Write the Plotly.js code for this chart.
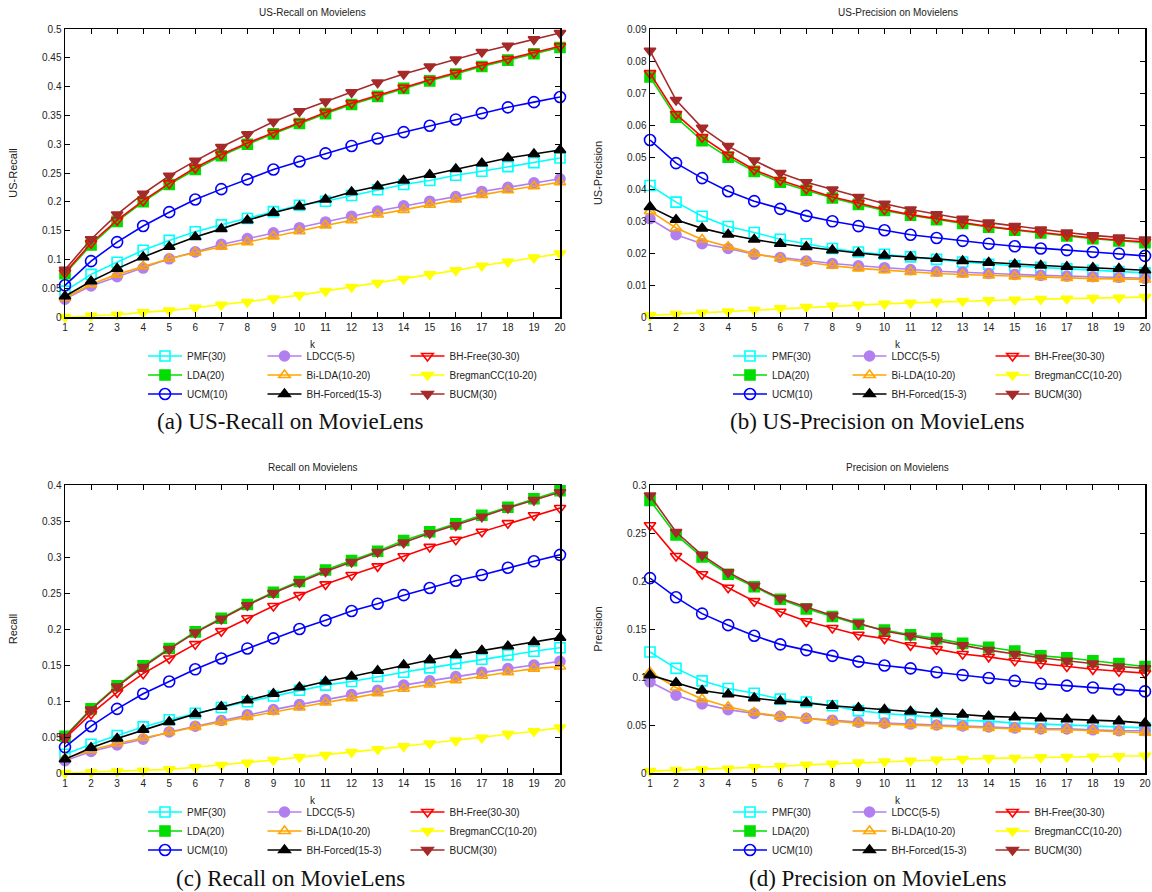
<!DOCTYPE html>
<html><head><meta charset="utf-8">
<script src="https://cdn.plot.ly/plotly-3.0.1.min.js"></script>
<style>html,body{margin:0;padding:0;background:#fff}#chart{width:1152px;height:892px}</style>
</head><body><div id="chart"></div>
<script>
// ---- data ----
const k = [1,2,3,4,5,6,7,8,9,10,11,12,13,14,15,16,17,18,19,20];
const seriesNames = ['PMF(30)','LDA(20)','UCM(10)','LDCC(5-5)','Bi-LDA(10-20)','BH-Forced(15-3)','BH-Free(30-30)','BregmanCC(10-20)','BUCM(30)'];

// (a) US-Recall
const ur_PMF      = [0.045,0.074,0.095,0.116,0.133,0.148,0.160,0.171,0.183,0.194,0.201,0.211,0.221,0.230,0.237,0.246,0.253,0.261,0.268,0.276];
const ur_LDA      = [0.075,0.125,0.166,0.200,0.230,0.256,0.280,0.300,0.318,0.336,0.353,0.369,0.383,0.397,0.410,0.422,0.435,0.446,0.457,0.468];
const ur_UCM      = [0.055,0.097,0.130,0.158,0.182,0.204,0.222,0.239,0.256,0.270,0.284,0.297,0.310,0.321,0.332,0.343,0.354,0.364,0.373,0.382];
const ur_LDCC     = [0.031,0.054,0.070,0.085,0.101,0.113,0.126,0.136,0.146,0.155,0.165,0.175,0.184,0.193,0.201,0.209,0.218,0.225,0.233,0.240];
const ur_BiLDA    = [0.033,0.057,0.074,0.088,0.101,0.112,0.122,0.130,0.140,0.149,0.159,0.168,0.178,0.186,0.195,0.204,0.212,0.220,0.227,0.234];
const ur_BHForced = [0.036,0.062,0.084,0.104,0.122,0.139,0.153,0.168,0.181,0.192,0.204,0.217,0.227,0.237,0.247,0.257,0.267,0.276,0.283,0.290];
const ur_BHFree   = [0.077,0.128,0.168,0.202,0.232,0.259,0.282,0.302,0.320,0.338,0.355,0.371,0.385,0.398,0.412,0.424,0.437,0.448,0.459,0.470];
const ur_Bregman  = [0.000,0.002,0.004,0.008,0.011,0.016,0.021,0.026,0.032,0.038,0.045,0.052,0.059,0.066,0.074,0.081,0.089,0.096,0.103,0.110];
const ur_BUCM     = [0.082,0.135,0.178,0.214,0.245,0.271,0.295,0.317,0.339,0.357,0.374,0.390,0.407,0.422,0.435,0.447,0.460,0.471,0.482,0.493];

// (b) US-Precision
const up_PMF      = [0.0411,0.0359,0.0315,0.0283,0.0264,0.0243,0.0229,0.0214,0.0203,0.0196,0.0188,0.0180,0.0172,0.0165,0.0160,0.0155,0.0151,0.0146,0.0142,0.0138];
const up_LDA      = [0.0750,0.0624,0.0551,0.0499,0.0455,0.0421,0.0396,0.0372,0.0352,0.0333,0.0318,0.0304,0.0292,0.0281,0.0271,0.0263,0.0253,0.0245,0.0238,0.0232];
const up_UCM      = [0.0553,0.0481,0.0434,0.0393,0.0362,0.0338,0.0316,0.0299,0.0284,0.0271,0.0257,0.0247,0.0238,0.0229,0.0221,0.0214,0.0209,0.0203,0.0198,0.0191];
const up_LDCC     = [0.0307,0.0257,0.0229,0.0214,0.0196,0.0186,0.0175,0.0167,0.0160,0.0154,0.0148,0.0143,0.0140,0.0136,0.0133,0.0130,0.0128,0.0126,0.0124,0.0121];
const up_BiLDA    = [0.0331,0.0278,0.0242,0.0219,0.0198,0.0183,0.0172,0.0160,0.0152,0.0146,0.0141,0.0136,0.0133,0.0130,0.0127,0.0125,0.0122,0.0120,0.0119,0.0117];
const up_BHForced = [0.0344,0.0304,0.0277,0.0258,0.0242,0.0229,0.0219,0.0209,0.0200,0.0192,0.0188,0.0182,0.0175,0.0170,0.0165,0.0161,0.0157,0.0154,0.0151,0.0146];
const up_BHFree   = [0.0762,0.0634,0.0562,0.0507,0.0460,0.0427,0.0401,0.0375,0.0356,0.0336,0.0320,0.0307,0.0295,0.0283,0.0273,0.0264,0.0255,0.0247,0.0240,0.0235];
const up_Bregman  = [0.0005,0.0009,0.0013,0.0017,0.0022,0.0027,0.0031,0.0035,0.0038,0.0041,0.0044,0.0047,0.0050,0.0052,0.0054,0.0056,0.0057,0.0059,0.0060,0.0062];
const up_BUCM     = [0.0832,0.0678,0.0591,0.0534,0.0489,0.0450,0.0421,0.0398,0.0375,0.0354,0.0336,0.0321,0.0307,0.0295,0.0284,0.0273,0.0264,0.0255,0.0248,0.0242];

// (c) Recall
const r_PMF       = [0.026,0.040,0.052,0.064,0.074,0.083,0.091,0.099,0.107,0.115,0.122,0.127,0.134,0.140,0.146,0.152,0.158,0.164,0.169,0.174];
const r_LDA       = [0.051,0.089,0.121,0.149,0.173,0.196,0.215,0.234,0.251,0.266,0.282,0.295,0.308,0.323,0.335,0.346,0.358,0.369,0.381,0.392];
const r_UCM       = [0.036,0.065,0.089,0.110,0.127,0.144,0.159,0.173,0.187,0.200,0.212,0.225,0.235,0.247,0.257,0.267,0.275,0.285,0.294,0.303];
const r_LDCC      = [0.017,0.030,0.039,0.047,0.057,0.065,0.073,0.081,0.088,0.095,0.102,0.109,0.115,0.122,0.128,0.134,0.140,0.145,0.150,0.155];
const r_BiLDA     = [0.020,0.032,0.041,0.049,0.057,0.064,0.071,0.078,0.085,0.091,0.098,0.104,0.111,0.117,0.123,0.129,0.135,0.140,0.145,0.148];
const r_BHForced  = [0.019,0.035,0.048,0.060,0.071,0.082,0.092,0.101,0.110,0.119,0.127,0.134,0.142,0.150,0.157,0.164,0.170,0.176,0.182,0.188];
const r_BHFree    = [0.048,0.082,0.112,0.138,0.159,0.179,0.197,0.215,0.232,0.247,0.262,0.275,0.287,0.301,0.314,0.324,0.335,0.347,0.358,0.368];
const r_Bregman   = [0.000,0.001,0.002,0.003,0.005,0.008,0.011,0.014,0.018,0.022,0.025,0.029,0.033,0.037,0.041,0.045,0.049,0.054,0.058,0.063];
const r_BUCM      = [0.050,0.088,0.120,0.147,0.172,0.195,0.214,0.233,0.250,0.265,0.280,0.293,0.307,0.320,0.333,0.344,0.356,0.368,0.379,0.390];

// (d) Precision
const p_PMF       = [0.126,0.109,0.096,0.088,0.083,0.077,0.074,0.070,0.065,0.062,0.060,0.058,0.055,0.054,0.052,0.051,0.050,0.049,0.048,0.047];
const p_LDA       = [0.284,0.248,0.225,0.207,0.194,0.181,0.171,0.163,0.155,0.149,0.144,0.140,0.135,0.131,0.127,0.122,0.120,0.117,0.114,0.111];
const p_UCM       = [0.203,0.183,0.166,0.154,0.143,0.134,0.128,0.122,0.116,0.112,0.109,0.105,0.102,0.099,0.096,0.093,0.091,0.089,0.087,0.085];
const p_LDCC      = [0.095,0.081,0.072,0.066,0.062,0.059,0.057,0.055,0.053,0.052,0.051,0.050,0.049,0.048,0.047,0.046,0.046,0.045,0.044,0.044];
const p_BiLDA     = [0.105,0.089,0.077,0.069,0.063,0.059,0.057,0.054,0.052,0.051,0.050,0.049,0.048,0.047,0.046,0.045,0.045,0.044,0.043,0.042];
const p_BHForced  = [0.102,0.094,0.086,0.082,0.078,0.075,0.073,0.070,0.068,0.066,0.064,0.062,0.061,0.059,0.058,0.057,0.056,0.055,0.054,0.052];
const p_BHFree    = [0.258,0.226,0.207,0.193,0.179,0.168,0.158,0.151,0.144,0.140,0.133,0.129,0.124,0.121,0.117,0.114,0.111,0.108,0.106,0.104];
const p_Bregman   = [0.0020,0.0030,0.0035,0.0045,0.0060,0.0070,0.0085,0.0095,0.0110,0.0120,0.0128,0.0138,0.0146,0.0152,0.0157,0.0163,0.0167,0.0170,0.0173,0.0180];
const p_BUCM      = [0.289,0.251,0.227,0.209,0.195,0.182,0.173,0.164,0.156,0.148,0.143,0.138,0.133,0.128,0.124,0.120,0.117,0.114,0.111,0.109];

const panelTitles = ['US-Recall on Movielens','US-Precision on Movielens','Recall on Movielens','Precision on Movielens'];
const panelYTitles = ['US-Recall','US-Precision','Recall','Precision'];
const panelCaptions = ['(a) US-Recall on MovieLens','(b) US-Precision on MovieLens','(c) Recall on MovieLens','(d) Precision on MovieLens'];
const panelYMax = [0.5, 0.09, 0.4, 0.3];
const panelYStep = [0.05, 0.01, 0.05, 0.05];
const xTickVals = k;

// ---- styles ----
const colors  = ['#00ffff','#00dd00','#0000ff','#b27ff0','#ffa500','#000000','#ff0000','#ffff00','#a52a2a'];
const symbols = ['square-open','square','circle-open','circle','triangle-up-open','triangle-up','triangle-down-open','triangle-down','triangle-down'];
const msizes  = [10,10,11,10,10,10,10,10,10];

const W = 1152, H = 892;
const px = v => v / W;
const py = v => 1 - v / H;

const panelData = [
  [ur_PMF,ur_LDA,ur_UCM,ur_LDCC,ur_BiLDA,ur_BHForced,ur_BHFree,ur_Bregman,ur_BUCM],
  [up_PMF,up_LDA,up_UCM,up_LDCC,up_BiLDA,up_BHForced,up_BHFree,up_Bregman,up_BUCM],
  [r_PMF,r_LDA,r_UCM,r_LDCC,r_BiLDA,r_BHForced,r_BHFree,r_Bregman,r_BUCM],
  [p_PMF,p_LDA,p_UCM,p_LDCC,p_BiLDA,p_BHForced,p_BHFree,p_Bregman,p_BUCM]
];

// geometry (pixels)
const geo = [
  {l:65,  r:560,  t:29,  b:317, capX:290},
  {l:650, r:1145, t:29,  b:317, capX:877},
  {l:65,  r:560,  t:485, b:773, capX:290},
  {l:650, r:1145, t:485, b:773, capX:877}
];
const legendColCenters = [188, 325, 474];

const FONT = 'Liberation Sans, Arial, sans-serif';
const traces = [];
const layout = {
  width: W, height: H,
  margin: {l:0, r:0, t:0, b:0},
  paper_bgcolor: '#fff', plot_bgcolor: '#fff',
  font: {family: FONT, size: 10, color: '#222'},
  annotations: []
};

for (let p = 0; p < 4; p++) {
  const g = geo[p];
  const xa = p === 0 ? 'x' : 'x' + (p + 1);
  const ya = p === 0 ? 'y' : 'y' + (p + 1);
  const xk = p === 0 ? 'xaxis' : 'xaxis' + (p + 1);
  const yk = p === 0 ? 'yaxis' : 'yaxis' + (p + 1);
  const axCommon = {
    showline: true, linecolor: '#000', linewidth: 1.5, mirror: 'ticks',
    ticks: 'inside', ticklen: 5, tickwidth: 1, tickcolor: '#000',
    showgrid: false, zeroline: false,
    tickfont: {family: FONT, size: 10, color: '#222'}
  };
  layout[xk] = Object.assign({}, axCommon, {
    domain: [px(g.l), px(g.r)], anchor: ya,
    range: [1, 20], tickmode: 'array', tickvals: xTickVals,
    title: {text: 'k', font: {family: FONT, size: 10, color: '#222'}, standoff: 9}
  });
  layout[yk] = Object.assign({}, axCommon, {
    domain: [py(g.b), py(g.t)], anchor: xa,
    range: [0, panelYMax[p]], dtick: panelYStep[p], tick0: 0,
    title: {text: panelYTitles[p], font: {family: FONT, size: 11, color: '#222'}, standoff: 22}
  });
  layout.annotations.push({
    xref: 'paper', yref: 'paper', x: px((g.l + g.r) / 2), y: py(g.t - 17),
    xanchor: 'center', yanchor: 'middle', showarrow: false,
    text: panelTitles[p], font: {family: FONT, size: 10, color: '#222'}
  });
  layout.annotations.push({
    xref: 'paper', yref: 'paper', x: px(g.capX), y: py(g.b + 105),
    xanchor: 'center', yanchor: 'middle', showarrow: false,
    text: panelCaptions[p], font: {family: 'Liberation Serif, Times New Roman, serif', size: 23, color: '#111'}
  });
  // three legend columns per panel
  for (let c = 0; c < 3; c++) {
    const n = p * 3 + c + 1;
    const lk = n === 1 ? 'legend' : 'legend' + n;
    layout[lk] = {
      x: px(legendColCenters[c] + (g.l - 65)), y: py(g.b + 58),
      xanchor: 'center', yanchor: 'middle', orientation: 'v',
      bgcolor: 'rgba(0,0,0,0)', borderwidth: 0, traceorder: 'normal',
      font: {family: FONT, size: 10, color: '#222'}, itemwidth: 34
    };
  }
  for (let i = 0; i < 9; i++) {
    const n = p * 3 + Math.floor(i / 3) + 1;
    traces.push({
      type: 'scatter', mode: 'lines+markers',
      x: k, y: panelData[p][i], xaxis: xa, yaxis: ya,
      name: seriesNames[i],
      legend: n === 1 ? 'legend' : 'legend' + n,
      line: {color: colors[i], width: 1.6},
      marker: {symbol: symbols[i], size: msizes[i], color: colors[i],
               line: {color: colors[i], width: 1.6}},
      cliponaxis: false
    });
  }
}

Plotly.newPlot('chart', traces, layout, {displayModeBar: false, staticPlot: true});
</script>
</body></html>
